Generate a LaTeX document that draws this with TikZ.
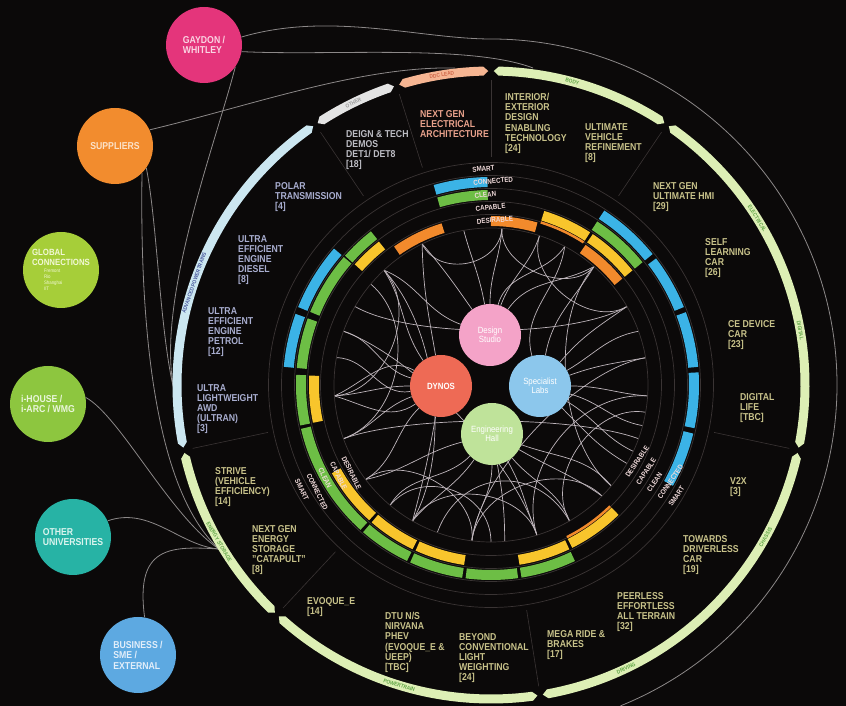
\documentclass[tikz,border=0pt]{standalone}
\usepackage{fontspec}
\setmainfont{Liberation Sans}[FakeStretch=0.87]
\usetikzlibrary{calc}
\pgfdeclarelayer{back}
\pgfdeclarelayer{netl}
\pgfsetlayers{back,netl,main}
\definecolor{bg}{HTML}{0B0909}
\definecolor{cblue}{HTML}{3BB3E6}
\definecolor{cgreen}{HTML}{6DBE45}
\definecolor{cyellow}{HTML}{F8C52C}
\definecolor{corange}{HTML}{F28A2C}
\definecolor{guide}{HTML}{3A3434}
\definecolor{netc}{HTML}{BFB6BC}
\definecolor{linkc}{HTML}{8C8888}
\definecolor{tolive}{HTML}{C8C28A}
\definecolor{tlav}{HTML}{A9AED0}
\definecolor{tgray}{HTML}{BDBDC4}
\definecolor{tsalmon}{HTML}{E9A28C}
\definecolor{ringtxt}{HTML}{F0DADA}
\definecolor{bandgreen}{HTML}{DDEFB5}
\definecolor{bandblue}{HTML}{CCE7F1}
\definecolor{bandwhite}{HTML}{E4E4E4}
\definecolor{bandsalmon}{HTML}{F6B592}
\definecolor{lblgreen}{HTML}{5FA545}
\definecolor{lblblue}{HTML}{4A5A9E}
\definecolor{lblgray}{HTML}{9A9A9A}
\definecolor{lblsalmon}{HTML}{D0684A}
\definecolor{cds}{HTML}{F4A3C8}
\definecolor{cdy}{HTML}{EE6A55}
\definecolor{csl}{HTML}{8CC7EC}
\definecolor{ceh}{HTML}{BFE39A}
\definecolor{cgay}{HTML}{E4357B}
\definecolor{csup}{HTML}{F28C2E}
\definecolor{cglo}{HTML}{A6CE39}
\definecolor{cihs}{HTML}{8DC63F}
\definecolor{couv}{HTML}{27B3A5}
\definecolor{cbus}{HTML}{5DA9E1}
\newcommand\rarc[4]{\draw[#1, line width=10pt] (#3:#2pt) arc[start angle=#3, end angle=#4, radius=#2pt];}
\newcommand\obseg[3]{%
  \pgfmathsetmacro\oA{#2+0.5}\pgfmathsetmacro\oB{#2+1.4}%
  \pgfmathsetmacro\oC{#3-1.4}\pgfmathsetmacro\oD{#3-0.5}%
  \fill[#1] (\oA:314pt) -- (\oB:318.5pt) arc[start angle=\oB, end angle=\oC, radius=318.5pt]
    -- (\oD:314pt) -- (\oC:309.5pt) arc[start angle=\oC, end angle=\oB, radius=309.5pt] -- cycle;}
\newcommand\gsub[1]{\hspace*{12pt}{\fontsize{5}{6}\selectfont\mdseries #1}}
\begin{document}
\begin{tikzpicture}[x=1pt,y=1pt,
  net/.style={draw=netc, line width=0.7pt},
  conn/.style={draw=linkc, line width=0.8pt},
  lab/.style={anchor=north west, align=left, inner sep=0pt, font=\bfseries\fontsize{10}{10.2}\selectfont},
  ringlab/.style={anchor=west, inner sep=0pt, font=\bfseries\fontsize{7.2}{8}\selectfont, text=ringtxt},
  bandlab/.style={inner sep=0pt, font=\bfseries\fontsize{5.5}{6}\selectfont},
  bigc/.style={circle, minimum size=76pt, inner sep=0pt, align=left, font=\bfseries\fontsize{10}{10.5}\selectfont},
  hubc/.style={circle, minimum size=62pt, inner sep=0pt, align=center, font=\fontsize{9}{9.5}\selectfont, text=white}
]
\useasboundingbox (0,0) rectangle (846,706);
\begin{pgfonlayer}{back}
\fill[bg] (0,0) rectangle (846,706);
\end{pgfonlayer}

\begin{scope}[shift={(491,321)}]
  % guide circles
  \foreach \r in {157,170.5,183.5,196.5,209.5,222.5}
    \draw[guide, line width=0.7pt] (0,0) circle[radius=\r pt];
  % faint radial dividers
  \foreach \a in {90,107.5,124,56,-12,192,227,279}
    \draw[guide, line width=0.6pt] (\a:228pt) -- (\a:305pt);
  % CONNECTED ring
  \foreach \p/\q in {91/106, 39/57, 22/37.5, 5/20.5, -12/3.5, -29/-13.5, 139/158, 160/175}
    {\rarc{cblue}{203}{\p}{\q}}
  % CLEAN ring
  \foreach \p/\q in {91/106, 39/57, 128/138.5, 139/158, 160/175, 177/192, 193/228, 229/244.5, 245.5/261.5, 262.5/278, 279/295.5}
    {\rarc{cgreen}{190}{\p}{\q}}
  % CAPABLE ring
  \foreach \p/\q in {57/73, 39/56, 128/138.5, 177/192, 209/228, 229/244.5, 245.5/261.5, 279/295.5, 296.5/314.5}
    {\rarc{cyellow}{177}{\p}{\q}}
  % DESIRABLE ring
  \foreach \p/\q in {74/90, 107/125, 39/56}
    {\rarc{corange}{164}{\p}{\q}}
  \draw[corange, line width=2.5pt] (57:170pt) arc[start angle=57, end angle=73, radius=170pt];
  \draw[corange, line width=2.5pt] (296.5:170pt) arc[start angle=296.5, end angle=314.5, radius=170pt];

  % ring labels
  \foreach \w [count=\i from 0] in {SMART,CONNECTED,CLEAN,CAPABLE,DESIRABLE} {
    \pgfmathsetmacro\rr{216-13*\i}
    \node[ringlab, rotate=5] (rt\i) at (95:\rr pt) {\w};
    \node[ringlab, rotate=296] (rl\i) at (206:\rr pt) {\w};
    \node[ringlab, rotate=56] (rr\i) at (-34:\rr pt) {\w};
  }

  % outer band
  \obseg{bandgreen}{-12}{56}
  \obseg{bandgreen}{56}{90}
  \obseg{bandsalmon}{90}{107.5}
  \obseg{bandwhite}{107.5}{124}
  \obseg{bandblue}{124}{192}
  \obseg{bandgreen}{192}{227}
  \obseg{bandgreen}{227}{279}
  \obseg{bandgreen}{279}{348}

  \node[bandlab, text=lblblue, rotate=71] (b1) at (161:314pt) {ADVANCED POWERTRAINS};
  \node[bandlab, text=lblgray, rotate=26] (b2) at (116:314pt) {OTHER};
  \node[bandlab, text=lblsalmon, rotate=9] (b3) at (99:314pt) {DDC LEAD};
  \node[bandlab, text=lblgreen, rotate=-15] (b4) at (75:314pt) {BODY};
  \node[bandlab, text=lblgreen, rotate=-58] (b5) at (32:314pt) {ELECTRICAL};
  \node[bandlab, text=lblgreen, rotate=-80] (b6) at (10:314pt) {DIGITAL};
  \node[bandlab, text=lblgreen, rotate=61] (b7) at (-29:314pt) {CHASSIS};
  \node[bandlab, text=lblgreen, rotate=25.5] (b8) at (-64.5:314pt) {DRIVING};
  \node[bandlab, text=lblgreen, rotate=343] (b9) at (253:314pt) {POWERTRAIN};
  \node[bandlab, text=lblgreen, rotate=300] (b10) at (210:314pt) {ENERGY STORAGE};

  % hub circles
  \node[hubc, fill=cds] (ds) at (-1,50) {Design\\Studio};
  \node[hubc, fill=cdy, font=\bfseries\fontsize{9}{9.5}\selectfont] (dy) at (-50,-1) {DYNOS};
  \node[hubc, fill=csl] (sl) at (49,-1) {Specialist\\Labs};
  \node[hubc, fill=ceh] (eh) at (1,-49) {Engineering\\Hall};

  \begin{pgfonlayer}{netl}
  \foreach \a/\tg/\an/\d in {86/ds/90/0, 116/ds/125/15, 49/ds/55/-20, 133/ds/160/25, 62/ds/75/-5,
      100/ds/100/5, 72/ds/70/0,
      184/dy/180/0, 184/dy/150/20, 184/dy/215/-20, 160/dy/165/5, 133/dy/125/-10, 116/dy/100/-25,
      217/dy/225/-5, 240/dy/260/15, 170/dy/190/10, 200/dy/200/0,
      49/sl/80/10, 30/sl/50/5, 10/sl/20/0, -4/sl/0/0, -25/sl/-30/0, 62/sl/105/20, 20/sl/30/-10,
      -15/sl/-15/5, 330/sl/-45/0,
      263/eh/270/0, 287/eh/300/5, 240/eh/235/-10, -40/eh/-20/-10, 217/eh/195/-25, 315/eh/330/10,
      275/eh/280/-5, 300/eh/310/-10, 230/eh/225/10} {
    \pgfmathsetmacro\oa{\a+180+\d}
    \draw[net] (\a:157pt) to[out=\oa, in=\an] (\tg.\an);
  }
  \foreach \a/\b/\l in {116/86/1.2, 86/49/1, 184/133/1, 217/263/1, 263/315/1, 287/356/1, 240/287/1,
      133/240/0.8, 160/287/0.7, 49/320/0.8, 10/263/0.7, 150/30/0.6, 200/340/0.6, 250/300/1.3,
      72/30/1, 140/200/1, 300/350/1, 230/270/1.2} {
    \pgfmathsetmacro\oa{\a+180}\pgfmathsetmacro\ob{\b+180}
    \draw[net] (\a:157pt) to[out=\oa, in=\ob, looseness=\l] (\b:157pt);
  }
  \end{pgfonlayer}
\end{scope}

% project labels
\node[lab, text=tgray] (t1) at (346,576) {DEIGN \& TECH\\DEMOS\\DET1/ DET8\\{[18]}};
\node[lab, text=tsalmon] (t2) at (420,596) {NEXT GEN\\ELECTRICAL\\ARCHITECTURE};
\node[lab, text=tolive] (t3) at (505,613) {INTERIOR/\\EXTERIOR\\DESIGN\\ENABLING\\TECHNOLOGY\\{[24]}};
\node[lab, text=tolive] (t4) at (585,583) {ULTIMATE\\VEHICLE\\REFINEMENT\\{[8]}};
\node[lab, text=tolive] (t5) at (653,524) {NEXT GEN\\ULTIMATE HMI\\{[29]}};
\node[lab, text=tolive] (t6) at (705,468) {SELF\\LEARNING\\CAR\\{[26]}};
\node[lab, text=tolive] (t7) at (728,386) {CE DEVICE\\CAR\\{[23]}};
\node[lab, text=tolive] (t8) at (740,313) {DIGITAL\\LIFE\\{[TBC]}};
\node[lab, text=tolive] (t9) at (730,229) {V2X\\{[3]}};
\node[lab, text=tolive] (t10) at (683,171) {TOWARDS\\DRIVERLESS\\CAR\\{[19]}};
\node[lab, text=tolive] (t11) at (617,114) {PEERLESS\\EFFORTLESS\\ALL TERRAIN\\{[32]}};
\node[lab, text=tolive] (t12) at (547,76) {MEGA RIDE \&\\BRAKES\\{[17]}};
\node[lab, text=tolive] (t13) at (459,73) {BEYOND\\CONVENTIONAL\\LIGHT\\WEIGHTING\\{[24]}};
\node[lab, text=tolive] (t14) at (385,94) {DTU N/S\\NIRVANA\\PHEV\\(EVOQUE\_E \&\\UEEP)\\{[TBC]}};
\node[lab, text=tolive] (t15) at (307,109) {EVOQUE\_E\\{[14]}};
\node[lab, text=tolive] (t16) at (252,181) {NEXT GEN\\ENERGY\\STORAGE\\"CATAPULT"\\{[8]}};
\node[lab, text=tolive] (t17) at (215,239) {STRIVE\\(VEHICLE\\EFFICIENCY)\\{[14]}};
\node[lab, text=tlav] (t18) at (197,322) {ULTRA\\LIGHTWEIGHT\\AWD\\(ULTRAN)\\{[3]}};
\node[lab, text=tlav] (t19) at (208,399) {ULTRA\\EFFICIENT\\ENGINE\\PETROL\\{[12]}};
\node[lab, text=tlav] (t20) at (238,471) {ULTRA\\EFFICIENT\\ENGINE\\DIESEL\\{[8]}};
\node[lab, text=tlav] (t21) at (275,524) {POLAR\\TRANSMISSION\\{[4]}};

% partner circles
\node[bigc, fill=cgay, text={rgb,255:red,250;green,212;blue,226}] (gay) at (204,661) {GAYDON /\\WHITLEY};
\node[bigc, fill=csup, text={rgb,255:red,252;green,226;blue,200}] (sup) at (115,560) {SUPPLIERS};
\node[bigc, fill=cglo, text={rgb,255:red,242;green,248;blue,214}, font=\bfseries\fontsize{9}{10}\selectfont] (glo) at (61,436)
  {GLOBAL\\CONNECTIONS\\[-3pt]\gsub{Fremont}\\[-4pt]\gsub{Rio}\\[-4pt]\gsub{Shanghai}\\[-4pt]\gsub{IIT}};
\node[bigc, fill=cihs, text={rgb,255:red,234;green,246;blue,220}] (ihs) at (48,302) {i-HOUSE /\\i-ARC / WMG};
\node[bigc, fill=couv, text={rgb,255:red,218;green,244;blue,238}] (ouv) at (73,169) {OTHER\\UNIVERSITIES};
\node[bigc, fill=cbus, text={rgb,255:red,226;green,238;blue,250}] (bus) at (138,51) {BUSINESS /\\SME /\\EXTERNAL};

% connectors from partners
\coordinate (P1) at (177,305);
\coordinate (P2) at (219,157);
\coordinate (T1) at (491,667);
\coordinate (T2) at (533,638);
\coordinate (T3) at (455,638);
\begin{pgfonlayer}{netl}
\draw[conn] (gay.12) .. controls (330,695) and (420,667) .. (T1) arc[start angle=90, end angle=-68, radius=346pt];
\draw[conn] (gay.-10) .. controls (330,650) and (470,662) .. (T2);
\draw[conn] (gay.-35) .. controls (215,560) and (150,390) .. (P1);
\draw[conn] (sup.25) .. controls (250,600) and (360,640) .. (T3);
\draw[conn] (sup.-35) .. controls (158,480) and (160,360) .. (P1);
\draw[conn] (sup.-45) .. controls (140,400) and (150,220) .. (P2);
\draw[conn] (ihs.10) .. controls (120,290) and (170,190) .. (P2);
\draw[conn] (ouv.25) .. controls (150,200) and (180,160) .. (P2);
\draw[conn] (bus.80) .. controls (135,160) and (170,160) .. (P2);
\end{pgfonlayer}
\end{tikzpicture}
\end{document}
